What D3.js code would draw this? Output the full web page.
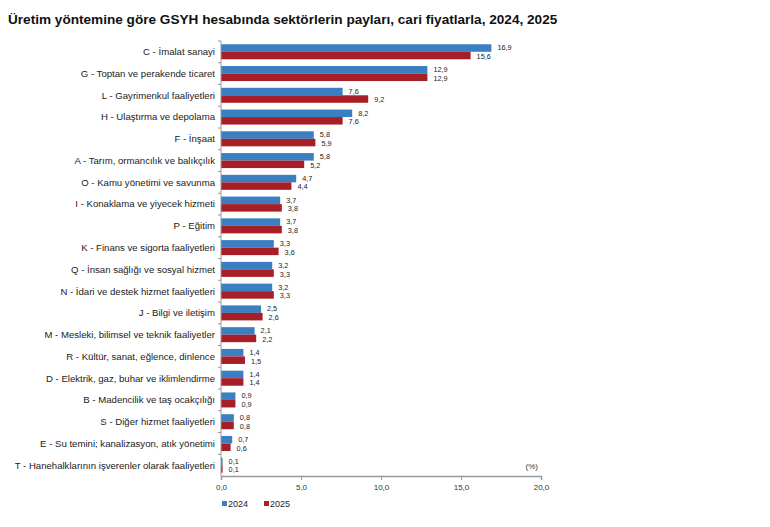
<!DOCTYPE html>
<html>
<head>
<meta charset="utf-8">
<script src="https://cdn.jsdelivr.net/npm/d3@7"></script>
<style>
  body { margin: 0; background: #fff; }
  text { font-family: "Liberation Sans", Arial, sans-serif; }
</style>
</head>
<body>
<div id="main"></div>
<script>
// data
var sectors = [
  "C - İmalat sanayi",
  "G - Toptan ve perakende ticaret",
  "L - Gayrimenkul faaliyetleri",
  "H - Ulaştırma ve depolama",
  "F - İnşaat",
  "A - Tarım, ormancılık ve balıkçılık",
  "O - Kamu yönetimi ve savunma",
  "I - Konaklama ve yiyecek hizmeti",
  "P - Eğitim",
  "K - Finans ve sigorta faaliyetleri",
  "Q - İnsan sağlığı ve sosyal hizmet",
  "N - İdari ve destek hizmet faaliyetleri",
  "J - Bilgi ve iletişim",
  "M - Mesleki, bilimsel ve teknik faaliyetler",
  "R - Kültür, sanat, eğlence, dinlence",
  "D - Elektrik, gaz, buhar ve iklimlendirme",
  "B - Madencilik ve taş ocakçılığı",
  "S - Diğer hizmet faaliyetleri",
  "E - Su temini; kanalizasyon, atık yönetimi",
  "T - Hanehalklarının işverenler olarak faaliyetleri"
];
var values2024 = [16.9, 12.9, 7.6, 8.2, 5.8, 5.8, 4.7, 3.7, 3.7, 3.3, 3.2, 3.2, 2.5, 2.1, 1.4, 1.4, 0.9, 0.8, 0.7, 0.1];
var values2025 = [15.6, 12.9, 9.2, 7.6, 5.9, 5.2, 4.4, 3.8, 3.8, 3.6, 3.3, 3.3, 2.6, 2.2, 1.5, 1.4, 0.9, 0.8, 0.6, 0.1];
var years = ["2024", "2025"];
var xTicks = [0, 5, 10, 15, 20];

var colors = { "2024": "#3a7fc1", "2025": "#a81e26" };

var width = 770, height = 527,
    x0 = 221, x1 = 541,   // plot left / right
    yTop = 41, yBot = 476;

var svg = d3.select('#main').append('svg')
  .attr('width', width)
  .attr('height', height);

svg.append('text')
  .attr('x', 8).attr('y', 24)
  .attr('font-size', 13.6).attr('font-weight', 'bold')
  .attr('fill', '#111')
  .text('Üretim yöntemine göre GSYH hesabında sektörlerin payları, cari fiyatlarla, 2024, 2025');

var x = d3.scaleLinear().domain([0, 20]).range([x0, x1]);
var y = d3.scaleBand().domain(sectors).range([yTop, yBot]).paddingInner(0.31).paddingOuter(0.15);
var yEdge = d3.scaleBand().domain(sectors).range([yTop, yBot]);
var sub = d3.scaleBand().domain(years).range([0, y.bandwidth()]);

var fmt = function(v) { return d3.format('.1f')(v).replace('.', ','); };

var rows = sectors.map(function(s, i) {
  return { name: s, vals: [ { yr: "2024", v: values2024[i] }, { yr: "2025", v: values2025[i] } ] };
});

// bars
var g = svg.append('g').selectAll('g').data(rows).enter().append('g')
  .attr('transform', function(d) { return 'translate(0,' + y(d.name) + ')'; });

g.selectAll('rect').data(function(d) { return d.vals; }).enter().append('rect')
  .attr('x', x(0))
  .attr('y', function(d) { return sub(d.yr); })
  .attr('width', function(d) { return x(d.v) - x(0); })
  .attr('height', sub.bandwidth())
  .attr('fill', function(d) { return colors[d.yr]; });

// value labels, stacked tight next to the bar ends
g.selectAll('text.val').data(function(d) { return d.vals; }).enter().append('text')
  .attr('class', 'val')
  .attr('x', function(d) { return x(d.v) + 6; })
  .attr('y', function(d) { return sub(d.yr) + sub.bandwidth() / 2 + (d.yr === "2024" ? 2.2 : 3.4); })
  .attr('font-size', 7.3).attr('fill', '#222')
  .text(function(d) { return fmt(d.v); });

// category labels
svg.append('g').selectAll('text').data(sectors).enter().append('text')
  .attr('x', x0 - 6)
  .attr('y', function(d) { return y(d) + y.bandwidth() / 2 + 3.4; })
  .attr('text-anchor', 'end')
  .attr('font-size', 9.6).attr('fill', '#222')
  .text(function(d) { return d; });

// y axis line and ticks at band edges
svg.append('line').attr('x1', x0).attr('x2', x0).attr('y1', yTop).attr('y2', yBot)
  .attr('stroke', '#999').attr('stroke-width', 1);
svg.append('g').selectAll('line').data(sectors).enter().append('line')
  .attr('x1', x0 - 3).attr('x2', x0)
  .attr('y1', function(d) { return yEdge(d); })
  .attr('y2', function(d) { return yEdge(d); })
  .attr('stroke', '#999');

// x axis
var xAxis = svg.append('g').attr('transform', 'translate(0,' + yBot + ')')
  .call(d3.axisBottom(x).tickValues(xTicks).tickSize(4).tickFormat(fmt));
xAxis.select('.domain').attr('stroke', '#999').attr('stroke-width', 1.5);
xAxis.selectAll('.tick line').attr('stroke', '#999');
xAxis.selectAll('.tick text').attr('font-size', 8).attr('fill', '#333')
  .attr('font-family', '"Liberation Sans", Arial, sans-serif').attr('dy', '0.9em');

svg.append('text').attr('x', x1 - 3).attr('y', 469)
  .attr('text-anchor', 'end').attr('font-size', 8).attr('fill', '#333').text('(%)');

// legend
var leg = svg.append('g').selectAll('g').data(years).enter().append('g')
  .attr('transform', function(d, i) { return 'translate(' + (222 + i * 42) + ',505)'; });
leg.append('rect').attr('x', 0).attr('y', -4).attr('width', 5).attr('height', 5)
  .attr('fill', function(d) { return colors[d]; });
leg.append('text').attr('x', 6).attr('y', 2).attr('font-size', 9).attr('fill', '#222')
  .text(function(d) { return d; });
</script>
</body>
</html>
